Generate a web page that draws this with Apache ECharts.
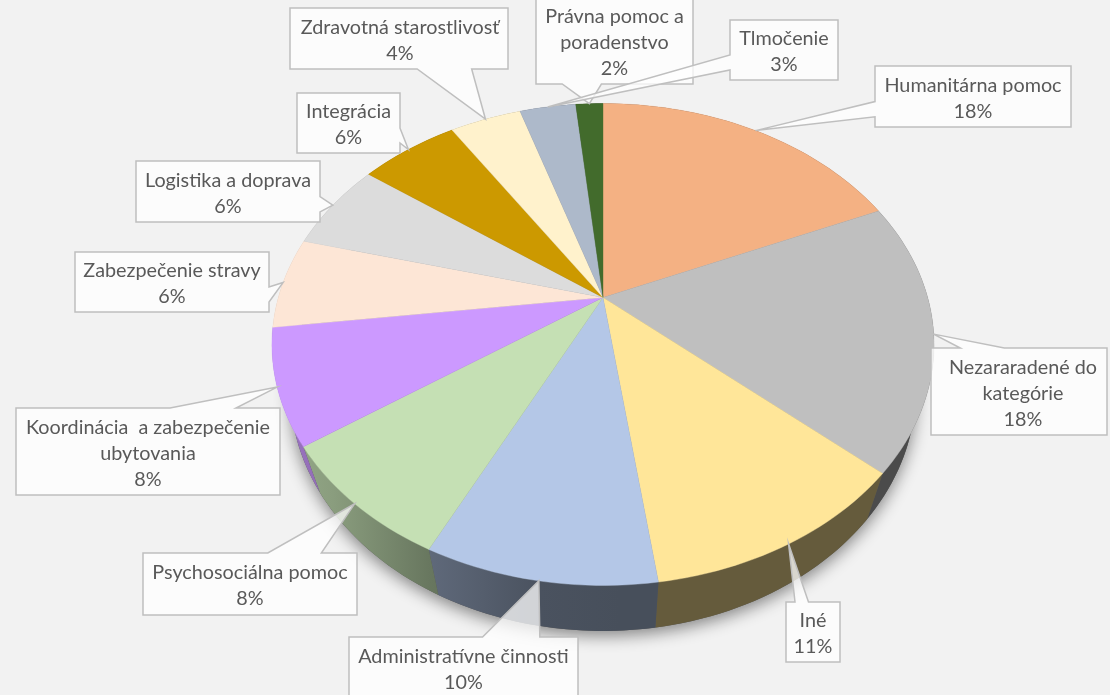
<!DOCTYPE html>
<html><head><meta charset="utf-8">
<style>html,body{margin:0;padding:0;background:#f2f2f2;overflow:hidden}#c{width:1110px;height:695px}</style>
<script src="https://cdn.jsdelivr.net/npm/echarts@6/dist/echarts.min.js"></script>
</head><body><div id="c"></div>
<script>
const categories = ["Humanitárna pomoc","Nezararadené do\nkategórie","Iné","Administratívne činnosti","Psychosociálna pomoc","Koordinácia  a zabezpečenie\nubytovania","Zabezpečenie stravy","Logistika a doprava","Integrácia","Zdravotná starostlivosť","Tlmočenie","Právna pomoc a\nporadenstvo"];
const shares = [18.4,18.1,11.3,9.5,8.0,7.7,6.1,6.0,5.8,4.2,3.3,1.6];
const colors = ["#f4b183","#bfbfbf","#ffe699","#b4c7e7","#c5e0b4","#cc99ff","#fde6d6","#dcdcdc","#cc9900","#fff2cc","#adb9ca","#426b2c"];
// label boxes: left, top, right, bottom
const boxes = [[875,66,1071,127],[931,348,1107,435],[786,602,840,662],[349,637,578,698],[143,553,357,615],[16,408,280,495],[75,252,269,312],[136,161,320,222],[297,93,400,153],[290,8,508,69],[730,20,838,80],[536,-3,693,84]];
const labelShiftX = [0,4,0,0,0,0,0,0,0,1,0,0];

const CX=603,CY=297.5,A=324.7,B=231.8,K=0.195,SX=0.945,DEPTH=45.5;
const total=shares.reduce((a,b)=>a+b,0);
const starts=[];shares.reduce((s,v,i)=>{starts[i]=s;return s+v/total;},0);
function rim(t){const a=2*Math.PI*t,u=Math.sin(a),v=Math.cos(a),w=1+K*v;return [CX+A*u/w,CY-B*v/w];}
function low(p){return [CX+(p[0]-CX)*SX,p[1]+DEPTH];}
function arc(t0,t1){const n=Math.max(2,Math.ceil((t1-t0)*240)),o=[];for(let j=0;j<=n;j++)o.push(rim(t0+(t1-t0)*j/n));return o;}
function rgb(h){return [1,3,5].map(i=>parseInt(h.substr(i,2),16));}
const shadeStops=[[0,.76],[280,.76],[333,.7],[430,.53],[540,.41],[620,.395],[1110,.395]];
function wallFill(hex){const c=rgb(hex);return new echarts.graphic.LinearGradient(0,0,1110,0,shadeStops.map(s=>({offset:s[0]/1110,color:`rgb(${c.map(x=>Math.round(x*s[1])).join(',')})`})),true);}

function calloutPoints(b,tip){
  const [l,t,r,bt]=b,w=r-l,h=bt-t,dx=tip[0]-(l+r)/2,dy=tip[1]-(t+bt)/2;
  const hs=dx<0?[1/6,5/12]:[7/12,5/6], vs=dy<0?[1/6,5/12]:[7/12,5/6];
  const pts=[[l,t]];
  const vertical=Math.abs(dy)>Math.abs(dx*h/w);
  if(vertical&&dy<0)pts.push([l+w*hs[0],t],tip,[l+w*hs[1],t]);
  pts.push([r,t]);
  if(!vertical&&dx>0)pts.push([r,t+h*vs[0]],tip,[r,t+h*vs[1]]);
  pts.push([r,bt]);
  if(vertical&&dy>0)pts.push([l+w*hs[1],bt],tip,[l+w*hs[0],bt]);
  pts.push([l,bt]);
  if(!vertical&&dx<0)pts.push([l,t+h*vs[1]],tip,[l,t+h*vs[0]]);
  return pts;
}

const idx=shares.map((v,i)=>[i]);
const option={
  backgroundColor:'#f2f2f2',animation:false,
  series:[
    {type:'custom',coordinateSystem:'none',silent:true,z:1,data:[[0]],renderItem(){
      return {type:'polygon',shape:{points:arc(0,1).map(low)},style:{fill:'#555',shadowBlur:16,shadowColor:'rgba(0,0,0,.45)',shadowOffsetY:5,shadowOffsetX:0}};
    }},
    {type:'custom',coordinateSystem:'none',silent:true,z:2,data:idx,renderItem(p,api){
      const i=api.value(0),top=arc(starts[i],starts[i]+shares[i]/total);
      return {type:'polygon',shape:{points:top.concat(top.map(low).reverse())},style:{fill:wallFill(colors[i]),stroke:null}};
    }},
    {type:'custom',coordinateSystem:'none',silent:true,z:3,data:idx,renderItem(p,api){
      const i=api.value(0),top=arc(starts[i],starts[i]+shares[i]/total);
      return {type:'polygon',shape:{points:[[CX,CY]].concat(top)},style:{fill:colors[i],stroke:colors[i],lineWidth:.4}};
    }},
    {type:'custom',coordinateSystem:'none',silent:true,z:4,data:idx.slice().reverse(),renderItem(p,api){
      const i=api.value(0),b=boxes[i],tip=rim(starts[i]+shares[i]/total/2);
      return {type:'group',children:[
        {type:'polygon',shape:{points:calloutPoints(b,tip)},style:{fill:'rgba(255,255,255,.75)',stroke:'#bfbfbf',lineWidth:1.5,lineJoin:'miter'}},
        {type:'text',style:{x:(b[0]+b[2])/2+labelShiftX[i],y:(b[1]+b[3])/2+2,text:categories[i]+"\n"+Math.round(shares[i])+"%",align:'center',verticalAlign:'middle',textAlign:'center',textVerticalAlign:'middle',fontFamily:'Lato',fontSize:19.8,lineHeight:26,fill:'#595959'}}
      ]};
    }}
  ]
};
echarts.init(document.getElementById('c'),null,{renderer:'canvas'}).setOption(option);
</script></body></html>
